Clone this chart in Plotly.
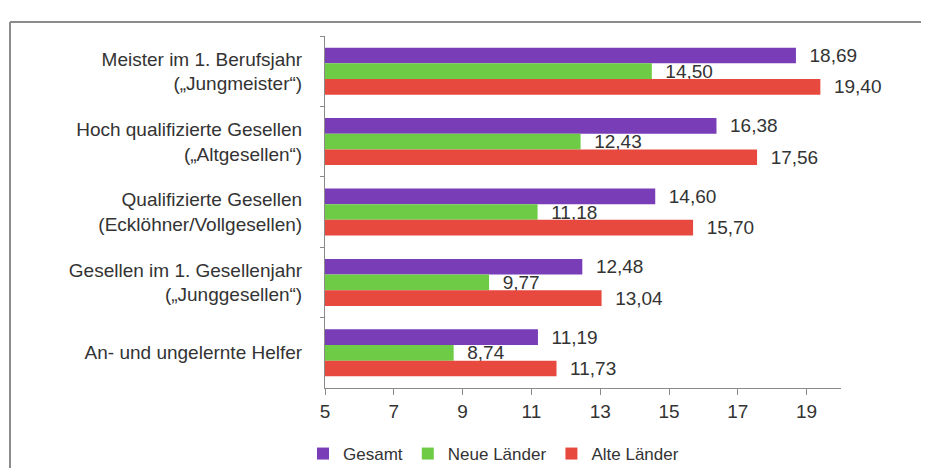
import plotly.graph_objects as go

categories = [
    "Meister im 1. Berufsjahr<br>(„Jungmeister“)",
    "Hoch qualifizierte Gesellen<br>(„Altgesellen“)",
    "Qualifizierte Gesellen<br>(Ecklöhner/Vollgesellen)",
    "Gesellen im 1. Gesellenjahr<br>(„Junggesellen“)",
    "An- und ungelernte Helfer",
]
gesamt = [18.69, 16.38, 14.60, 12.48, 11.19]
neue_laender = [14.50, 12.43, 11.18, 9.77, 8.74]
alte_laender = [19.40, 17.56, 15.70, 13.04, 11.73]
series_names = ["Gesamt", "Neue Länder", "Alte Länder"]
tick_values = [5, 7, 9, 11, 13, 15, 17, 19]
tick_labels = ["5", "7", "9", "11", "13", "15", "17", "19"]

colors = ["#7a3db8", "#6dcb45", "#e8493f"]
FONT = "Liberation Sans, Arial, sans-serif"
TXT = "#333333"
AX = "#8a8a8a"

# page body adds an 8px offset; figure laid out in its own pixel frame
W, H = 921, 460
L, R, T, B = 317, 88, 28, 80
pw = W - L - R
ph = H - T - B

fig = go.Figure()
for name, vals, col in zip(series_names, [gesamt, neue_laender, alte_laender], colors):
    fig.add_trace(go.Bar(
        name=name, y=categories, x=vals, orientation="h",
        marker=dict(color=col, line=dict(width=0)),
        texttemplate="\u00a0\u00a0%{x:.2f}", textposition="outside",
        textfont=dict(size=19, color=TXT, family=FONT),
        constraintext="none", cliponaxis=False,
    ))

def px_x(p):
    return (p - L) / pw

def px_y(p):
    return (T + ph - p) / ph

fig.update_layout(
    width=W, height=H,
    margin=dict(l=L, r=R, t=T, b=B, pad=0, autoexpand=False),
    paper_bgcolor="white", plot_bgcolor="white",
    separators=",.",
    barmode="group", bargap=0.333, bargroupgap=0,
    font=dict(family=FONT, size=18, color=TXT),
    xaxis=dict(
        range=[5, 20], automargin=False,
        tickmode="array", tickvals=tick_values, ticktext=tick_labels,
        ticks="outside", ticklen=6, tickcolor=AX, tickwidth=1,
        showline=True, linecolor=AX, linewidth=1,
        showgrid=False, zeroline=False,
        tickfont=dict(size=19, color=TXT, family=FONT),
        ticklabelstandoff=0,
    ),
    yaxis=dict(
        autorange="reversed", automargin=False,
        categoryorder="array", categoryarray=categories,
        tickson="boundaries", ticks="outside", ticklen=4,
        tickcolor=AX, showline=True, linecolor=AX, linewidth=1,
        showgrid=False, zeroline=False,
        tickfont=dict(size=19, color=TXT, family=FONT),
        ticklabelstandoff=18,
    ),
    legend=dict(
        orientation="h", xref="container", yref="container",
        x=295 / W, y=1 - 446 / H, xanchor="left", yanchor="middle",
        font=dict(size=17, color=TXT, family=FONT),
        traceorder="normal", itemclick=False,
    ),
    shapes=[
        dict(type="line", xref="paper", yref="paper",
             x0=px_x(2), x1=px_x(2), y0=px_y(14), y1=px_y(H + 5),
             line=dict(color="#8c8c8c", width=2)),
        dict(type="line", xref="paper", yref="paper",
             x0=px_x(2), x1=px_x(W + 5), y0=px_y(14), y1=px_y(14),
             line=dict(color="#8c8c8c", width=2)),
    ],
)

fig.write_html("out.html")
